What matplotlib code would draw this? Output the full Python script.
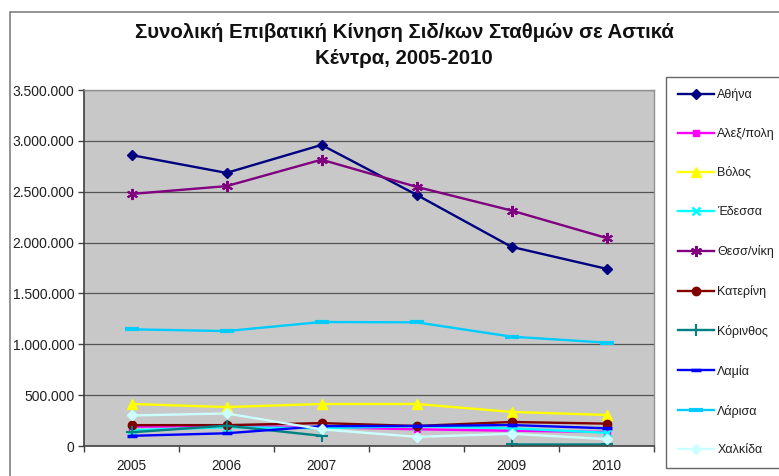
import numpy as np
import matplotlib
matplotlib.use("Agg")
import matplotlib.pyplot as plt
from matplotlib.patches import Rectangle
from matplotlib.ticker import FuncFormatter, FixedLocator

plt.rcParams['font.family'] = ['Liberation Sans', 'DejaVu Sans']

years = ['2005', '2006', '2007', '2008', '2009', '2010']

athina = [2860000, 2685000, 2960000, 2470000, 1958000, 1742000]
alexpoli = [190000, 195000, 185000, 164000, 150000, 138000]
volos = [413000, 383000, 413000, 413000, 335000, 305000]
edessa = [155000, 185000, 175000, 195000, 174000, 130000]
thessaloniki = [2478000, 2555000, 2815000, 2548000, 2315000, 2045000]
katerini = [205000, 205000, 225000, 197000, 236000, 220000]
korinthos = [135000, 200000, 100000, np.nan, 15000, 15000]
lamia = [100000, 125000, 195000, 197000, 206000, 174000]
larisa = [1147000, 1130000, 1219000, 1216000, 1075000, 1016000]
chalkida = [300000, 320000, 164000, 90000, 120000, 68000]

labels = ['Αθήνα', 'Αλεξ/πολη', 'Βόλος', 'Έδεσσα', 'Θεσσ/νίκη',
          'Κατερίνη', 'Κόρινθος', 'Λαμία', 'Λάρισα', 'Χαλκίδα']
series = [athina, alexpoli, volos, edessa, thessaloniki,
          katerini, korinthos, lamia, larisa, chalkida]

styles = [
    dict(color='#000080', marker='D', ms=5),
    dict(color='#FF00FF', marker='s', ms=5),
    dict(color='#FFFF00', marker='^', ms=7),
    dict(color='#00FFFF', marker='x', ms=6, mew=1.8),
    dict(color='#800080', marker=(6, 2, 0), ms=8, mew=1.5),
    dict(color='#800000', marker='o', ms=6),
    dict(color='#008080', marker='+', ms=8, mew=1.5),
    dict(color='#0000FF', marker='_', ms=7, mew=2.5),
    dict(color='#00CCFF', marker='_', ms=10, mew=3),
    dict(color='#CCFFFF', marker='D', ms=5),
]

W, H = 779, 476
fig = plt.figure(figsize=(W / 100, H / 100), dpi=100)
fig.patch.set_facecolor('white')

# chart area border
fig.add_artist(Rectangle((10 / W, -0.1), 1.2, 1 - 12 / H + 0.1,
                         transform=fig.transFigure, fill=False,
                         edgecolor='#808080', lw=1.2))

left, right, top, bottom = 84, 654, 90, 446
ax = fig.add_axes([left / W, 1 - bottom / H, (right - left) / W, (bottom - top) / H])
ax.set_facecolor('#C8C8C8')

x = np.arange(len(years))
handles = []
for vals, lab, st in zip(series, labels, styles):
    h, = ax.plot(x, vals, lw=1.7, label=lab, **st)
    handles.append(h)

ax.set_xlim(-0.5, len(years) - 0.5)
ax.set_ylim(0, 3500000)
ax.yaxis.set_major_locator(FixedLocator(np.arange(0, 3500001, 500000)))
ax.yaxis.set_major_formatter(FuncFormatter(lambda v, p: f"{int(v):,}".replace(',', '.')))
ax.set_xticks(x)
ax.set_xticklabels(years)
ax.set_xticks(np.arange(-0.5, len(years), 1.0), minor=True)
ax.tick_params(axis='x', which='major', length=0, pad=9, labelsize=9.8, colors='#202020')
ax.tick_params(axis='x', which='minor', length=4, width=1, color='#404040')
ax.tick_params(axis='y', which='major', length=4, width=1, color='#404040',
               labelsize=10, labelcolor='#202020', pad=3)
ax.grid(axis='y', color='#555555', lw=0.9)
ax.set_axisbelow(True)
for s in ['top', 'right']:
    ax.spines[s].set_color('#909090')
    ax.spines[s].set_linewidth(1)
for s in ['left', 'bottom']:
    ax.spines[s].set_color('#404040')
    ax.spines[s].set_linewidth(1.2)

fig.text(404 / W, 1 - 32 / H, 'Συνολική Επιβατική Κίνηση Σιδ/κων Σταθμών σε Αστικά',
         ha='center', va='center', fontsize=14.7, fontweight='bold', color='#111111')
fig.text(404 / W, 1 - 58 / H, 'Κέντρα, 2005-2010',
         ha='center', va='center', fontsize=14.7, fontweight='bold', color='#111111')

leg = fig.legend(handles, labels, loc='upper left',
                 bbox_to_anchor=(666 / W, 1 - 77 / H), bbox_transform=fig.transFigure,
                 borderaxespad=0, fontsize=9, frameon=True, fancybox=False,
                 edgecolor='#404040', borderpad=0.95, labelspacing=2.15,
                 handlelength=2.9, handletextpad=0.25)
leg.get_frame().set_linewidth(1)
for t in leg.get_texts():
    t.set_color('#202020')

fig.savefig('out.png', dpi=100)
